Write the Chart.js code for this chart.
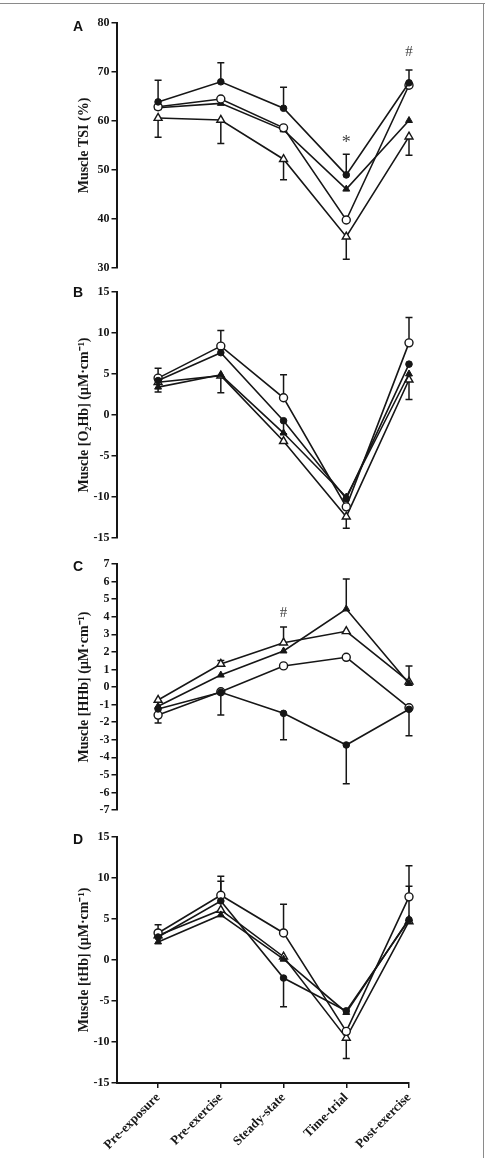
<!DOCTYPE html>
<html><head><meta charset="utf-8">
<script src="https://cdn.jsdelivr.net/npm/chart.js@4"></script>
<style>
html,body{margin:0;padding:0;background:#fff;}
body{width:487px;height:1158px;position:relative;overflow:hidden;}
canvas{position:absolute;left:0;}
.lab{position:absolute;left:73px;font:bold 14px "Liberation Sans",Arial,sans-serif;line-height:14px;color:#111;}
#frameTop{position:absolute;left:0;top:3px;width:485px;height:0;border-top:1.5px solid #8a8a8a;}
#frameRight{position:absolute;left:483px;top:3px;width:0;height:1160px;border-left:1.5px solid #8a8a8a;}
</style></head><body>
<div id="frameTop"></div><div id="frameRight"></div>
<canvas id="cA" width="487" height="269" style="top:11px"></canvas>
<canvas id="cB" width="487" height="270" style="top:280px"></canvas>
<canvas id="cC" width="487" height="270" style="top:552px"></canvas>
<canvas id="cD" width="487" height="333" style="top:825px"></canvas>
<div class="lab" style="top:19px">A</div>
<div class="lab" style="top:285px">B</div>
<div class="lab" style="top:559px">C</div>
<div class="lab" style="top:832px">D</div>
<script>
// ---------- DATA ----------
const categories = ['Pre-exposure','Pre-exercise','Steady-state','Time-trial','Post-exercise'];

// Panel A: Muscle TSI (%)
const ticksA = [30,40,50,60,70,80];
const tsiFilledCircle   = [63.9, 68.0, 62.6, 49.0, 67.8];
const tsiOpenCircle     = [62.9, 64.5, 58.6, 39.8, 67.3];
const tsiFilledTriangle = [62.7, 63.6, 58.2, 46.1, 60.1];
const tsiOpenTriangle   = [60.6, 60.2, 52.2, 36.4, 56.8];
const tsiSdFilledCircleUp = [4.4, 3.9, 4.3, 4.2, 2.6];
const tsiSdOpenTriangleDown = [3.9, 4.8, 4.2, 4.6, 3.8];
const notesA = [{index:3, value:55.4, text:'*'}, {index:4, value:74.0, text:'#'}];

// Panel B: Muscle [O2Hb]
const ticksB = [-15,-10,-5,0,5,10,15];
const o2FilledCircle   = [4.2, 7.6, -0.7, -10.2, 6.2];
const o2OpenCircle     = [4.5, 8.4, 2.1, -11.2, 8.8];
const o2FilledTriangle = [3.4, 4.9, -2.2, -10.0, 5.0];
const o2OpenTriangle   = [4.0, 4.8, -3.2, -12.4, 4.3];
const o2SdOpenCircleUp = [1.2, 1.9, 2.8, null, 3.1];
const o2SdOpenTriangleDown = [1.2, 2.1, null, 1.4, 2.4];
const o2SdFilledCircleDown = [null, null, 1.6, null, null];

// Panel C: Muscle [HHb]
const ticksC = [-7,-6,-5,-4,-3,-2,-1,0,1,2,3,4,5,6,7];
const hhbFilledCircle   = [-1.25, -0.3, -1.5, -3.3, -1.27];
const hhbOpenCircle     = [-1.6, -0.27, 1.2, 1.69, -1.18];
const hhbFilledTriangle = [-1.1, 0.68, 2.05, 4.44, 0.2];
const hhbOpenTriangle   = [-0.74, 1.31, 2.52, 3.17, 0.3];
const hhbSdFilledCircleDown = [null, 1.3, 1.5, 2.2, 1.5];
const hhbSdOpenCircleDown = [0.45, null, null, null, null];
const hhbSdOpenTriangleUp = [null, 0.2, 0.9, null, 0.9];
const hhbSdFilledTriangleUp = [null, null, null, 1.7, null];
const notesC = [{index:2, value:4.2, text:'#'}];

// Panel D: Muscle [tHb]
const ticksD = [-15,-10,-5,0,5,10,15];
const thbFilledCircle   = [2.8, 7.2, -2.2, -6.2, 4.9];
const thbOpenCircle     = [3.3, 7.9, 3.3, -8.7, 7.7];
const thbFilledTriangle = [2.2, 5.5, 0.1, -6.4, 5.0];
const thbOpenTriangle   = [3.0, 6.1, 0.4, -9.5, 4.7];
const thbSdOpenCircleUp = [1.0, 2.3, 3.5, null, 3.8];
const thbSdFilledCircleUp = [null, 2.4, null, null, 4.1];
const thbSdFilledCircleDown = [null, null, 3.5, null, null];
const thbSdOpenTriangleDown = [null, null, null, 2.5, null];

// ---------- STYLE / HELPERS ----------
const INK = '#161616';
const SERIF = '"Liberation Serif","Times New Roman",serif';
const markerStyles = [
  {pointStyle:'circle',   pointRadius:3.3, pointBackgroundColor:INK,   pointBorderColor:INK, pointBorderWidth:1},
  {pointStyle:'circle',   pointRadius:4,   pointBackgroundColor:'#fff',pointBorderColor:INK, pointBorderWidth:1.4},
  {pointStyle:'triangle', pointRadius:4,   pointBackgroundColor:INK,   pointBorderColor:INK, pointBorderWidth:1},
  {pointStyle:'triangle', pointRadius:4.6, pointBackgroundColor:'#fff',pointBorderColor:INK, pointBorderWidth:1.4}
];
const seriesNames = ['Filled circle','Open circle','Filled triangle','Open triangle'];

function makeDatasets(seriesList){
  return seriesList.map((vals, k) => Object.assign({
    label: seriesNames[k],
    data: vals.map((v,i)=>({x:i, y:v})),
    borderColor: INK, borderWidth: 1.6, fill:false, tension:0,
    clip: false, order: k
  }, markerStyles[k]));
}

const errorBarPlugin = {
  id:'errbars',
  beforeDatasetsDraw(chart, args, opts){
    const {ctx} = chart; const x = chart.scales.x, y = chart.scales.y;
    ctx.save(); ctx.strokeStyle = INK; ctx.lineWidth = 1.5;
    (opts.bars||[]).forEach(b=>{
      const pts = chart.data.datasets[b.ds].data;
      b.sd.forEach((s,i)=>{
        if(s==null) return;
        const px = x.getPixelForValue(pts[i].x);
        const y0 = y.getPixelForValue(pts[i].y);
        const y1 = y.getPixelForValue(pts[i].y + b.dir*s);
        ctx.beginPath();
        ctx.moveTo(px,y0); ctx.lineTo(px,y1);
        ctx.moveTo(px-3.5,y1); ctx.lineTo(px+3.5,y1);
        ctx.stroke();
      });
    });
    ctx.restore();
  }
};
const notesPlugin = {
  id:'notes',
  afterDatasetsDraw(chart, args, opts){
    const {ctx} = chart; const x = chart.scales.x, y = chart.scales.y;
    ctx.save(); ctx.fillStyle = '#444'; ctx.textAlign='center'; ctx.textBaseline='middle';
    (opts.items||[]).forEach(n=>{
      ctx.font = (n.text === '*' ? '18px ' : '15px ') + SERIF;
      ctx.fillText(n.text, x.getPixelForValue(n.index), y.getPixelForValue(n.value));
    });
    ctx.restore();
  }
};

function yAxis(ticksArr, title){
  return {
    type:'linear', position:'left',
    min: ticksArr[0], max: ticksArr[ticksArr.length-1],
    afterBuildTicks(s){ s.ticks = ticksArr.map(v=>({value:v})); },
    afterFit(s){ s.width = 44.5; },
    ticks:{ color:INK, autoSkip:false, padding:2, callback:(v)=>String(v),
            font:{family:SERIF, size:12, weight:'bold'} },
    grid:{ drawOnChartArea:false, drawTicks:true, tickLength:5, color:INK, lineWidth:1.5 },
    border:{ display:true, color:INK, width:2 },
    title:{ display:true, text:title, color:INK, padding:{top:4,bottom:0},
            font:{family:SERIF, size:14, weight:'bold'} }
  };
}
function xAxis(show){
  return {
    type:'linear', position:'bottom', display:show,
    min:-0.663, max:categories.length-1,
    afterBuildTicks(s){ s.ticks = categories.map((c,i)=>({value:i})); },
    afterFit(s){ if(show) s.height = 70; },
    ticks:{ color:INK, autoSkip:false, minRotation:45, maxRotation:45, padding:2,
            callback:(v)=>categories[v], font:{family:SERIF, size:13, weight:'bold'} },
    grid:{ drawOnChartArea:false, drawTicks:true, tickLength:5, color:INK, lineWidth:1.5 },
    border:{ display:true, color:INK, width:2 }
  };
}

function makeChart(id, series, ticksArr, title, bars, notes, showX){
  return new Chart(document.getElementById(id), {
    type:'line',
    data:{ datasets: makeDatasets(series) },
    options:{
      responsive:false, animation:false, devicePixelRatio:1,
      layout:{ padding:{ left:72, right:78, top:12, bottom: showX ? 5 : 12 } },
      scales:{ x: xAxis(showX), y: yAxis(ticksArr, title) },
      plugins:{ legend:{display:false}, tooltip:{enabled:false},
                errbars:{ bars: bars }, notes:{ items: notes } }
    },
    plugins:[errorBarPlugin, notesPlugin]
  });
}

makeChart('cA', [tsiFilledCircle, tsiOpenCircle, tsiFilledTriangle, tsiOpenTriangle], ticksA,
  'Muscle TSI (%)',
  [{ds:0, sd:tsiSdFilledCircleUp, dir:1}, {ds:3, sd:tsiSdOpenTriangleDown, dir:-1}], notesA, false);

makeChart('cB', [o2FilledCircle, o2OpenCircle, o2FilledTriangle, o2OpenTriangle], ticksB,
  'Muscle [O\u2082Hb] (\u03bcM\u00b7cm\u207b\u00b9)',
  [{ds:1, sd:o2SdOpenCircleUp, dir:1}, {ds:3, sd:o2SdOpenTriangleDown, dir:-1},
   {ds:0, sd:o2SdFilledCircleDown, dir:-1}], [], false);

makeChart('cC', [hhbFilledCircle, hhbOpenCircle, hhbFilledTriangle, hhbOpenTriangle], ticksC,
  'Muscle [HHb] (\u03bcM\u00b7cm\u207b\u00b9)',
  [{ds:0, sd:hhbSdFilledCircleDown, dir:-1}, {ds:1, sd:hhbSdOpenCircleDown, dir:-1},
   {ds:3, sd:hhbSdOpenTriangleUp, dir:1}, {ds:2, sd:hhbSdFilledTriangleUp, dir:1}], notesC, false);

makeChart('cD', [thbFilledCircle, thbOpenCircle, thbFilledTriangle, thbOpenTriangle], ticksD,
  'Muscle [tHb] (\u03bcM\u00b7cm\u207b\u00b9)',
  [{ds:1, sd:thbSdOpenCircleUp, dir:1}, {ds:0, sd:thbSdFilledCircleUp, dir:1},
   {ds:0, sd:thbSdFilledCircleDown, dir:-1}, {ds:3, sd:thbSdOpenTriangleDown, dir:-1}], [], true);
</script>
</body></html>
